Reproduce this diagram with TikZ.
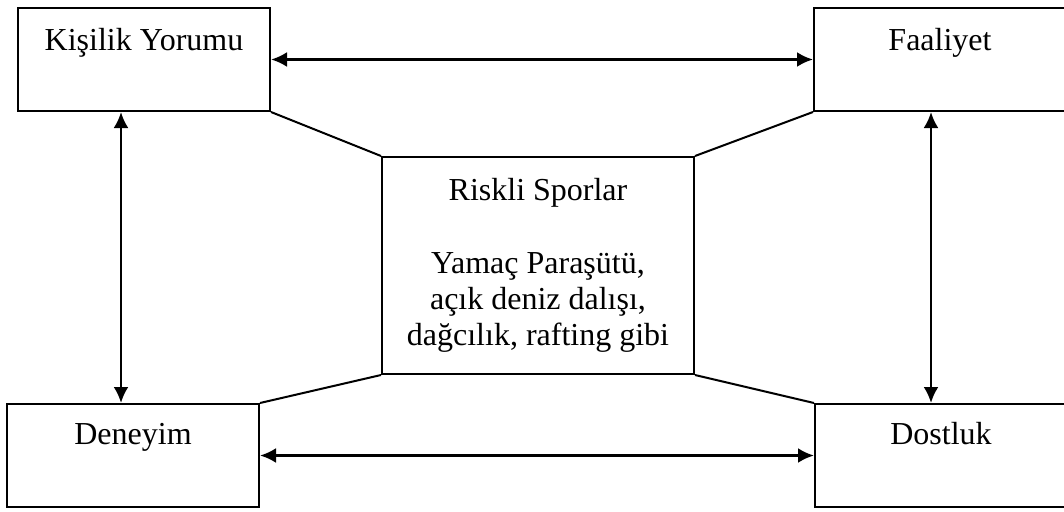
\documentclass[tikz,border=0pt]{standalone}
\usepackage{fontspec}
\setmainfont{Liberation Serif}
\usetikzlibrary{arrows.meta}
\tikzset{
  box/.style={draw, line width=2pt, inner sep=0pt, minimum width=252pt, text height=42pt, text depth=61pt},
  link/.style={line width=2pt},
  both/.style={line width=2.7pt, {Latex[length=16pt,width=15pt]}-{Latex[length=16pt,width=15pt]}}
}
\begin{document}
\begin{tikzpicture}[x=1pt,y=-1pt,font=\fontsize{32}{36}\selectfont]
\useasboundingbox (0,0) rectangle (1064,511);
\node[box] (kisilik) at (144,59.5) {Kişilik Yorumu};
\node[box] (faaliyet) at (940,59.5) {Faaliyet};
\node[box, text height=40pt, text depth=63pt] (deneyim) at (133,455.5) {Deneyim};
\node[box, text height=40pt, text depth=63pt] (dostluk) at (941,455.5) {Dostluk};
\node[draw, line width=2pt, minimum width=312pt, minimum height=217pt, align=center] (riskli) at (538,265.5)
  {Riskli Sporlar\\[37pt]Yamaç Paraşütü,\\açık deniz dalışı,\\dağcılık, rafting gibi};
% corners to the middle box
\draw[link] (kisilik.south east) -- (riskli.north west);
\draw[link] (faaliyet.south west) -- (riskli.north east);
\draw[link] (deneyim.north east) -- (riskli.south west);
\draw[link] (dostluk.north west) -- (riskli.south east);
% arrows between the boxes
\draw[both] (kisilik.east) -- (faaliyet.west);
\draw[both] (deneyim.east) -- (dostluk.west);
\draw[both] ([xshift=104pt]kisilik.south west) -- ([xshift=115pt]deneyim.north west);
\draw[both] ([xshift=118pt]faaliyet.south west) -- ([xshift=117pt]dostluk.north west);
\end{tikzpicture}
\end{document}
